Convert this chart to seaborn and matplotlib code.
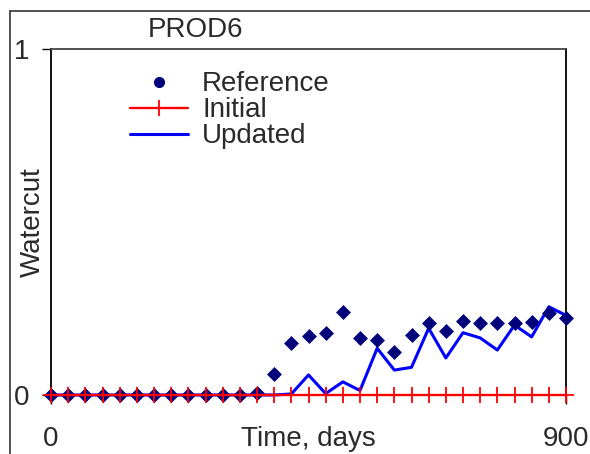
import numpy as np
import pandas as pd
import matplotlib
matplotlib.use("Agg")
import matplotlib.pyplot as plt
from matplotlib.lines import Line2D
import seaborn as sns

# Simulation report times (days)
days = [0, 30, 60, 90, 120, 150, 180, 210, 240, 270, 300, 330, 360, 390, 420,
        450, 480, 510, 540, 570, 600, 630, 660, 690, 720, 750, 780, 810, 840,
        870, 900]

# Observed (reference) watercut
reference_wc = [0, 0, 0, 0, 0, 0, 0, 0, 0, 0, 0, 0, 0.005, 0.06, 0.15,
                0.17, 0.18, 0.24, 0.165, 0.16, 0.125, 0.173, 0.208, 0.185,
                0.214, 0.208, 0.208, 0.208, 0.21, 0.237, 0.222]

# Initial model watercut
initial_wc = [0.0] * len(days)

# Updated (history-matched) model watercut
updated_wc = [0, 0, 0, 0, 0, 0, 0, 0, 0, 0, 0, 0, 0, 0, 0.003,
              0.058, 0.004, 0.038, 0.013, 0.135, 0.072, 0.08, 0.193, 0.107,
              0.18, 0.165, 0.13, 0.202, 0.168, 0.255, 0.23]

df = pd.DataFrame({"days": days, "Reference": reference_wc,
                   "Initial": initial_wc, "Updated": updated_wc})

sns.set_theme(style="white")
plt.rcParams["font.family"] = ["Liberation Sans", "DejaVu Sans"]
FS = 20
TXT = "#2a2a2a"
NAVY = "#00007a"
RED = "#ff0000"
BLUE = "#0000ff"

fig = plt.figure(figsize=(5.9, 4.54), dpi=100)
ax = fig.add_axes([51 / 590, 1 - 395 / 454, 515 / 590, 346 / 454])

sns.lineplot(data=df, x="days", y="Updated", ax=ax, color=BLUE,
             linewidth=2.2, zorder=3, clip_on=False)
sns.scatterplot(data=df, x="days", y="Reference", ax=ax, marker="D",
                color=NAVY, s=58, linewidth=0, zorder=4, clip_on=False)
sns.lineplot(data=df, x="days", y="Initial", ax=ax, color=RED,
             linewidth=1.7, marker="+", markersize=12, markeredgewidth=1.3,
             markeredgecolor=RED, zorder=5, clip_on=False)

ax.set_xlim(0, 900)
ax.set_ylim(0, 1)
ax.set_xticks([0, 900])
ax.set_yticks([0, 1])
ax.set_xticklabels(["0", "900"])
ax.set_yticklabels(["0", "1"])
ax.tick_params(axis="both", direction="out", length=6.5, width=1.0,
               color="black", labelsize=FS, labelcolor=TXT,
               bottom=True, left=True)
ax.tick_params(axis="x", pad=16)
ax.tick_params(axis="y", pad=9)

for side in ["top", "left", "right", "bottom"]:
    ax.spines[side].set_visible(True)
    ax.spines[side].set_color("black")
    ax.spines[side].set_linewidth(1.3)
ax.spines["top"].set_color("#444444")

ax.set_xlabel("Time, days", fontsize=FS, color=TXT)
ax.xaxis.set_label_coords(0.5, -0.127)
ax.xaxis.label.set_va("center")
ax.set_ylabel("Watercut", fontsize=FS, color=TXT)
ax.yaxis.set_label_coords(-0.036, 0.5)
ax.yaxis.label.set_va("center")

fig.text(196 / 590, 1 - 30 / 454, "PROD6", fontsize=FS, color=TXT,
         ha="center", va="center")

# Outer frame
fig.add_artist(Line2D([10 / 590, 10 / 590], [0, 1 - 11 / 454],
                      transform=fig.transFigure, color="#333333", lw=1.2))
fig.add_artist(Line2D([10 / 590, 1], [1 - 11 / 454, 1 - 11 / 454],
                      transform=fig.transFigure, color="#333333", lw=1.2))

handles = [
    Line2D([], [], linestyle="none", marker="o", color=NAVY,
           markersize=7),
    Line2D([], [], color=RED, linewidth=1.7, marker="+",
           markersize=12, markeredgewidth=1.3),
    Line2D([], [], color=BLUE, linewidth=2.2),
]
ax.legend(handles, ["Reference", "Initial", "Updated"], loc="upper left",
          bbox_to_anchor=(0.153, 0.935), frameon=False, fontsize=FS,
          handlelength=2.1, handletextpad=0.5, labelspacing=0.0,
          borderpad=0, borderaxespad=0, labelcolor=TXT)

fig.savefig("out.png", dpi=100)
